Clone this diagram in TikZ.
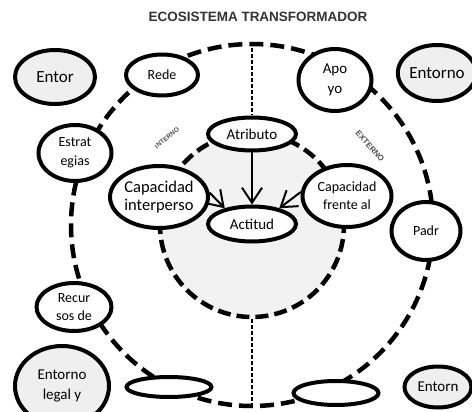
\documentclass[tikz,border=0pt]{standalone}
\usepackage{fontspec}
\setmainfont{Carlito}
\newfontfamily\headfont{Liberation Sans}
\usepackage{tikz}
\usetikzlibrary{arrows.meta,shapes.geometric,positioning}
\definecolor{softgray}{HTML}{EFEFEF}
\definecolor{coregray}{HTML}{F2F2F2}

\begin{document}
\begin{tikzpicture}[x=1pt,y=-1pt,node distance=3cm,on grid,
    >={Straight Barb[length=15pt,width=20pt]},
    bubble/.style={ellipse,draw,line width=4pt,fill=white,align=center,inner sep=0pt,
                   font=\fontsize{15}{20}\selectfont},
    outer/.style={bubble,fill=softgray},
    ring/.style={circle,draw,line width=4.5pt,dash pattern=on 14pt off 7pt,inner sep=0pt},
    axis/.style={line width=1.5pt,dash pattern=on 4pt off 2pt},
    tag/.style={font=\headfont\bfseries\fontsize{6.5}{7}\selectfont,text=black!70}]
            \useasboundingbox (0,0) rectangle (472,412);
            \node[font=\headfont\bfseries\fontsize{13.5}{15}\selectfont,text=black!80] (title) at (258,17) {ECOSISTEMA TRANSFORMADOR};
            \node[ring, minimum size=362pt]                   (eco)    at (252,225) {};
            \node[ring, minimum size=184pt, fill=coregray,
                  dash pattern=on 13pt off 6pt]              (nucleo) at (252,225) {};
            \node[tag, rotate=40]                            (inter)  at (167,138) {INTERNO};
            \node[tag, rotate=-48, font=\headfont\bfseries\fontsize{8}{9}\selectfont] (exter) at (370,146) {EXTERNO};
            % centro
            \node[bubble, minimum width=88pt, minimum height=33pt]  (atr)  at (252,134) {Atributo};
            \node[bubble, minimum width=88pt, minimum height=35pt]  (act)  [below=90pt of atr] {Actitud};
            \node[bubble, minimum width=92pt, minimum height=62pt,
                  font=\fontsize{16.5}{18}\selectfont]             (capi) [above left=27pt and 93pt of act] {Capacidad\\interperso};
            \node[bubble, minimum width=89pt, minimum height=62pt,
                  font=\fontsize{14}{18}\selectfont]               (capf) [above right=28pt and 95pt of act] {Capacidad\\frente al};
            % anillo
            \node[bubble, minimum width=72pt, minimum height=41pt, font=\fontsize{14}{15}\selectfont] (rede)  at (162,75)  {Rede};
            \node[bubble, minimum width=73pt, minimum height=62pt]  (apoyo) at (335,80)  {Apo\\yo};
            \node[bubble, minimum width=73pt, minimum height=56pt, font=\fontsize{14}{19}\selectfont] (estra) at (75,153)  {Estrat\\egias};
            \node[bubble, minimum width=69pt, minimum height=58pt, font=\fontsize{14}{15}\selectfont] (padr)  at (426,231) {Padr};
            \node[bubble, minimum width=75pt, minimum height=48pt, font=\fontsize{14}{18}\selectfont] (recur) at (74,307)  {Recur\\sos de};
            \node[bubble, minimum width=85pt, minimum height=20pt]  (accion) at (169,387) {};
            \node[bubble, minimum width=85pt, minimum height=24pt]  (empr)   at (336,393) {};
            % entornos
            \node[outer, minimum width=80pt, minimum height=54pt, font=\fontsize{17}{18}\selectfont] (entor)  at (55,77)   {Entor};
            \node[outer, minimum width=72pt, minimum height=56pt, font=\fontsize{17}{18}\selectfont] (entno)  at (437,73)  {Entorno};
            \node[outer, minimum width=94pt, minimum height=80pt]   (legal)  at (62,386)  {Entorno\\legal y};
            \node[outer, minimum width=67pt, minimum height=41pt]   (entorn) at (438,387) {Entorn};
            \draw[axis] (eco.north) -- (atr.north);
            \draw[axis] (nucleo.south) -- (eco.south);
            \path[->, line width=2pt]
            (atr)       edge (act)
            (capi.5)    edge (act.150)
            (capf.175)  edge (act.30)
            ;
        \end{tikzpicture}
\end{document}
